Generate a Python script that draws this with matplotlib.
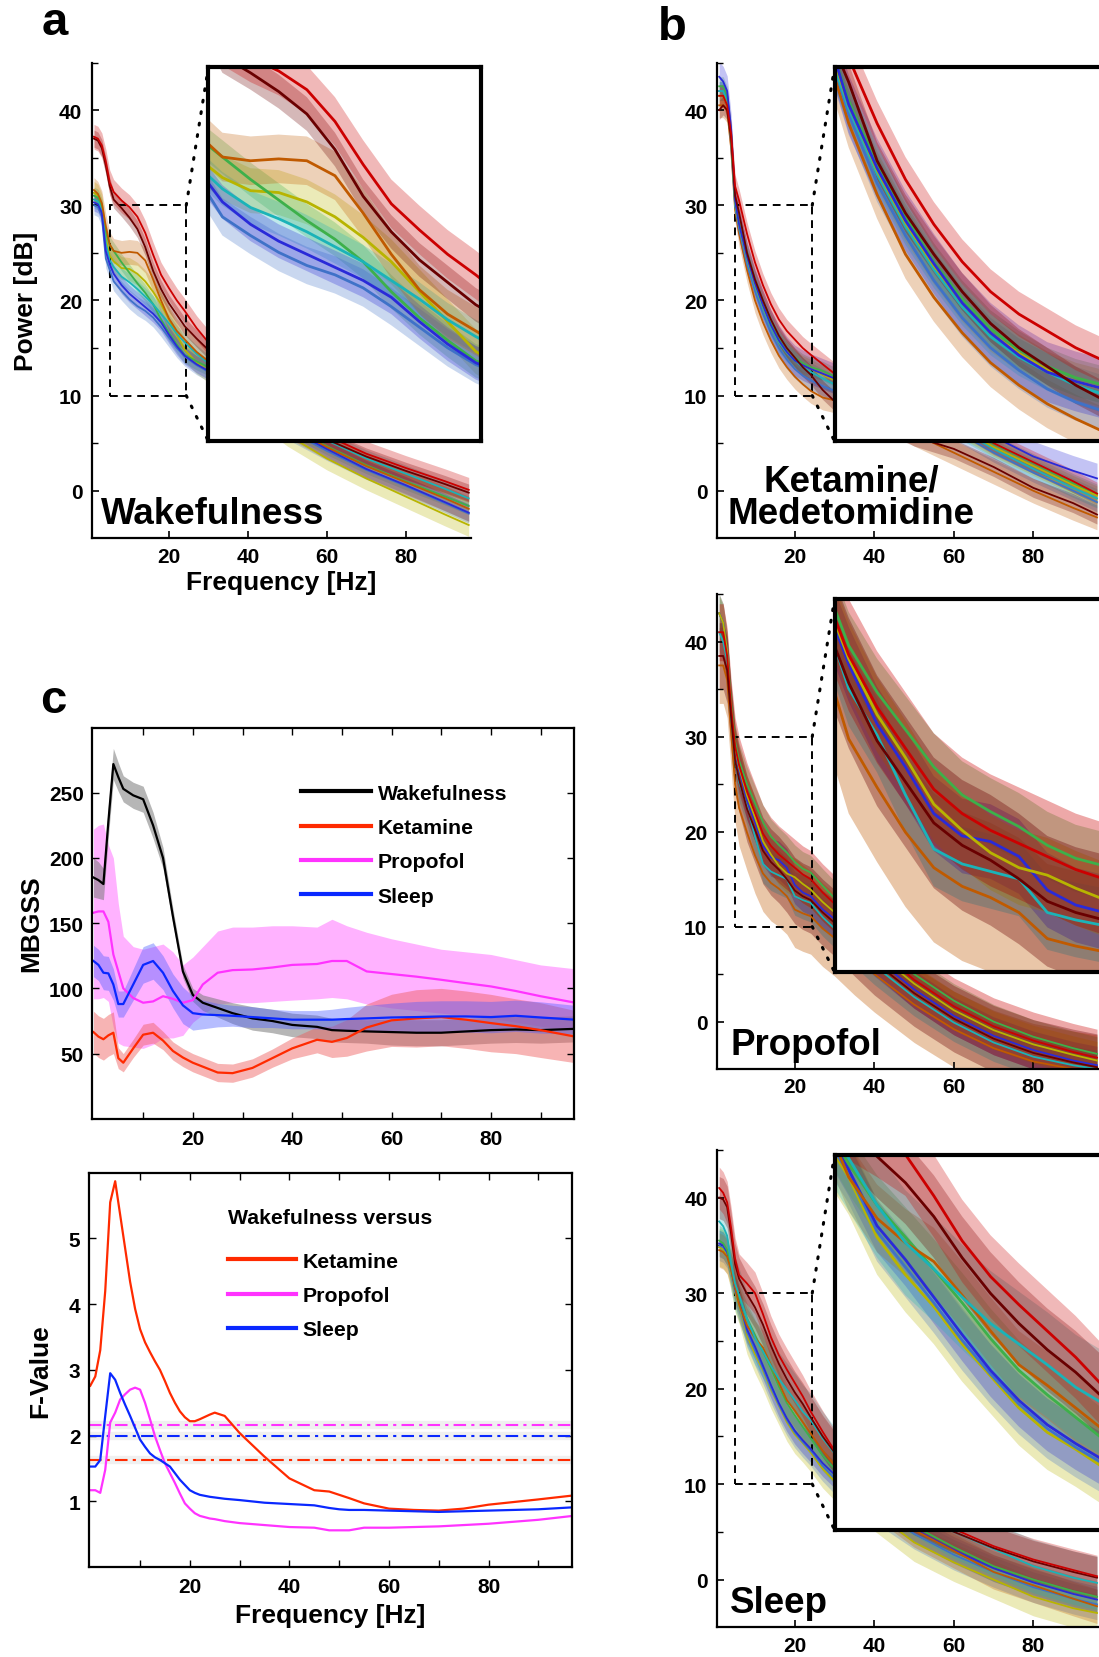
import matplotlib
matplotlib.use('Agg')
import matplotlib.pyplot as plt
from matplotlib.patches import Rectangle
from matplotlib.lines import Line2D

plt.rcParams['font.family'] = ['Liberation Sans', 'DejaVu Sans']
plt.rcParams['font.weight'] = 'bold'
plt.rcParams['axes.labelweight'] = 'bold'

# ---------------- spectra (panels a, b) ----------------
freqs = [1, 2, 3, 4, 5, 6, 8, 10, 12, 14, 16, 18, 20, 22, 24, 27, 30, 35, 40, 50, 60, 70, 80, 90, 96]

chan_colors = {'red': '#cc0000', 'maroon': '#6a0000', 'orange': '#c05a00', 'green': '#3db04a',
               'olive': '#b8b400', 'cyan': '#1bb3b8', 'blue': '#2a2ad8', 'steel': '#3f72c8'}

wake_chans = ['olive', 'green', 'cyan', 'steel', 'blue', 'orange', 'maroon', 'red']
wake_psd = [
    [31.3, 31.0, 30.0, 26.5, 24.7, 24.1, 23.4, 23.3, 22.8, 22.0, 20.9, 19.6, 18.0, 16.4, 14.8, 13.5, 12.6, 10.6, 9.0, 5.9, 3.4, 1.3, -0.6, -2.5, -3.6],
    [31.0, 30.8, 29.8, 27.2, 25.8, 25.2, 24.0, 22.9, 21.8, 20.8, 19.6, 18.0, 16.6, 15.4, 14.3, 13.6, 13.0, 11.4, 9.9, 6.9, 4.7, 2.7, 1.0, -0.6, -1.6],
    [30.6, 30.4, 29.5, 26.0, 24.2, 23.5, 22.5, 21.9, 21.2, 20.4, 19.6, 18.6, 17.6, 16.5, 15.6, 14.4, 13.4, 11.8, 10.3, 7.3, 5.3, 3.4, 1.8, 0.2, -0.8],
    [30.0, 29.8, 28.8, 24.4, 23.2, 22.0, 21.0, 20.1, 19.4, 18.9, 18.2, 17.2, 16.1, 15.0, 14.1, 13.2, 12.5, 10.9, 9.5, 6.4, 4.2, 2.2, 0.5, -1.3, -2.4],
    [30.3, 30.1, 29.2, 25.2, 23.8, 22.8, 21.6, 20.7, 20.0, 19.3, 18.6, 17.7, 16.4, 15.2, 14.2, 13.3, 12.6, 11.0, 9.6, 6.6, 4.4, 2.3, 0.6, -1.2, -2.3],
    [31.6, 31.2, 30.2, 27.8, 25.9, 25.2, 25.0, 25.1, 25.0, 24.2, 22.2, 20.0, 18.1, 16.8, 15.9, 14.6, 13.6, 11.9, 10.1, 6.9, 4.6, 2.6, 0.9, -0.8, -1.9],
    [37.0, 36.8, 36.0, 34.2, 32.0, 30.6, 29.7, 28.7, 27.5, 25.6, 23.1, 21.2, 19.7, 18.5, 17.3, 16.0, 14.8, 12.8, 11.0, 7.5, 5.4, 3.6, 2.1, 0.7, -0.2],
    [37.2, 37.0, 36.3, 34.6, 32.4, 31.4, 30.5, 29.8, 28.8, 27.1, 24.8, 22.7, 21.3, 20.0, 18.9, 17.1, 15.6, 13.4, 11.4, 7.8, 5.8, 3.9, 2.4, 1.0, 0.1],
]
wake_sd = [1.2, 0.9, 0.9, 1.0, 0.9, 1.3, 0.9, 1.3]

ket_chans = ['orange', 'steel', 'cyan', 'olive', 'green', 'blue', 'maroon', 'red']
ket_psd = [
    [40.5, 40.5, 40.0, 36.0, 29.5, 27.0, 23.2, 20.0, 17.7, 15.8, 14.2, 13.0, 12.0, 11.2, 10.5, 9.8, 9.5, 9.0, 8.3, 6.0, 4.0, 2.0, 0.0, -1.8, -2.8],
    [42.0, 42.0, 41.0, 36.5, 30.0, 27.5, 23.8, 21.0, 18.6, 16.6, 15.0, 13.8, 12.8, 12.1, 11.6, 11.0, 10.5, 10.2, 9.8, 8.8, 6.4, 4.0, 1.9, 0.0, -1.2],
    [42.0, 42.0, 41.0, 37.0, 30.0, 27.8, 24.3, 21.5, 19.2, 17.2, 15.6, 14.5, 13.7, 13.0, 12.5, 11.8, 11.2, 10.8, 10.4, 9.2, 6.8, 4.4, 2.3, 0.3, -0.8],
    [41.5, 41.5, 40.5, 37.0, 30.3, 28.0, 24.5, 21.7, 19.4, 17.4, 15.8, 14.7, 13.8, 13.2, 12.8, 12.2, 11.6, 11.3, 11.0, 9.6, 7.0, 4.6, 2.6, 0.6, -0.5],
    [42.5, 42.5, 41.5, 37.5, 30.5, 28.2, 24.8, 22.0, 19.6, 17.6, 16.0, 14.9, 14.0, 13.4, 13.0, 12.6, 12.0, 11.8, 11.5, 10.0, 7.4, 4.9, 2.9, 0.8, -0.3],
    [43.5, 43.0, 42.0, 38.0, 30.5, 28.0, 24.6, 21.8, 19.5, 17.4, 15.8, 14.6, 13.7, 13.2, 12.8, 12.3, 11.8, 11.5, 11.0, 10.2, 7.9, 5.7, 3.6, 2.1, 1.3],
    [40.0, 40.5, 40.0, 37.0, 31.0, 29.2, 25.0, 22.2, 20.0, 18.0, 16.3, 15.0, 14.0, 13.0, 12.2, 10.6, 9.4, 8.6, 7.6, 5.7, 4.4, 2.5, 0.3, -1.3, -2.5],
    [41.5, 41.5, 40.5, 37.5, 32.0, 30.5, 27.0, 24.0, 21.6, 19.6, 18.0, 16.8, 15.9, 15.0, 14.3, 13.3, 12.3, 11.8, 11.3, 10.0, 7.5, 5.0, 3.0, 1.0, -0.3],
]
ket_sd = [1.3, 1.0, 1.0, 1.0, 1.0, 1.6, 1.0, 1.2]

prop_chans = ['orange', 'green', 'cyan', 'blue', 'olive', 'red', 'maroon']
prop_psd = [
    [37.5, 37.5, 36.0, 30.5, 25.0, 22.5, 19.9, 17.5, 15.6, 14.6, 14.0, 13.2, 11.8, 11.4, 11.1, 9.8, 8.8, 6.8, 5.0, 1.8, -0.8, -2.8, -4.2, -5.0, -5.4],
    [43.0, 42.0, 39.0, 33.5, 29.5, 27.5, 25.0, 23.0, 21.0, 19.5, 18.6, 17.8, 16.8, 16.1, 15.7, 14.3, 13.0, 10.8, 8.6, 5.0, 2.2, 0.0, -1.6, -2.8, -3.4],
    [41.0, 40.0, 38.0, 32.0, 27.5, 25.2, 22.7, 19.5, 16.6, 15.8, 15.4, 15.0, 13.2, 12.8, 12.5, 11.0, 9.8, 7.8, 5.9, 2.6, -0.1, -2.2, -3.7, -4.6, -5.0],
    [43.0, 42.0, 39.0, 32.8, 28.5, 26.5, 23.3, 21.0, 18.5, 17.3, 17.0, 16.2, 14.4, 13.6, 13.2, 11.8, 10.8, 8.8, 6.8, 3.4, 0.6, -1.5, -3.0, -4.1, -4.6],
    [43.0, 42.0, 39.0, 33.0, 28.8, 26.8, 23.8, 21.5, 19.0, 17.6, 16.4, 15.6, 15.2, 14.5, 13.9, 12.6, 11.5, 9.4, 7.4, 4.0, 1.2, -0.9, -2.4, -3.5, -4.1],
    [41.0, 41.0, 38.5, 33.0, 29.0, 27.0, 24.2, 22.0, 19.8, 18.5, 17.6, 16.9, 16.2, 15.5, 15.0, 13.6, 12.4, 10.2, 8.0, 4.4, 1.6, -0.5, -2.0, -3.2, -3.8],
    [38.5, 38.5, 37.0, 32.0, 27.5, 25.5, 22.4, 20.2, 18.0, 16.8, 16.0, 15.0, 13.8, 13.2, 12.8, 11.5, 10.4, 8.3, 6.3, 3.0, 0.3, -1.8, -3.3, -4.3, -4.8],
]
prop_sd = [4.0, 1.8, 2.0, 2.0, 2.0, 3.0, 3.5]

sleep_chans = ['olive', 'steel', 'blue', 'green', 'orange', 'cyan', 'maroon', 'red']
sleep_psd = [
    [34.8, 34.6, 34.0, 32.2, 30.0, 28.8, 25.6, 23.6, 21.9, 19.9, 18.2, 16.5, 15.2, 14.3, 13.3, 11.6, 10.3, 8.5, 7.1, 3.9, 1.8, 0.0, -1.8, -3.0, -3.5],
    [35.0, 34.8, 34.2, 32.4, 30.2, 29.0, 25.9, 24.0, 22.1, 20.1, 18.3, 16.7, 15.4, 14.4, 13.5, 11.9, 10.6, 9.0, 7.6, 4.8, 2.6, 0.8, -0.8, -2.0, -2.6],
    [35.2, 35.0, 34.3, 32.6, 30.5, 29.2, 26.2, 24.4, 22.4, 20.4, 18.5, 16.9, 15.6, 14.6, 13.7, 12.2, 11.0, 9.4, 8.0, 5.3, 3.1, 1.2, -0.3, -1.5, -2.1],
    [35.5, 35.2, 34.5, 32.8, 30.8, 29.5, 27.3, 25.6, 23.9, 22.1, 20.2, 18.5, 17.2, 16.0, 14.8, 13.0, 11.6, 9.8, 8.3, 5.6, 3.4, 1.4, 0.0, -1.2, -1.8],
    [34.5, 34.3, 33.8, 32.4, 30.6, 28.8, 26.6, 25.3, 24.3, 22.5, 20.6, 18.8, 17.7, 16.5, 15.3, 13.5, 12.0, 10.0, 8.3, 5.2, 3.0, 0.8, -0.6, -2.0, -2.8],
    [37.5, 37.0, 36.0, 33.0, 31.0, 29.8, 27.3, 25.3, 23.9, 22.4, 21.0, 19.9, 18.8, 17.6, 16.7, 14.8, 13.2, 11.5, 10.1, 7.4, 5.0, 3.2, 1.4, 0.2, -0.35],
    [40.0, 39.8, 39.0, 36.2, 33.0, 31.5, 29.9, 28.5, 26.7, 24.5, 22.6, 21.0, 19.6, 18.4, 17.0, 15.0, 13.3, 11.4, 9.7, 6.9, 5.0, 3.3, 1.9, 0.8, 0.2],
    [41.0, 40.5, 39.5, 36.8, 33.6, 31.9, 31.0, 30.0, 27.8, 25.4, 23.5, 22.0, 20.6, 19.2, 17.6, 15.5, 13.5, 11.6, 9.9, 7.1, 5.3, 3.5, 2.1, 1.0, 0.35],
]
sleep_sd = [2.0, 1.6, 1.4, 1.6, 1.8, 2.8, 2.2, 2.2]

# zoom window and the box it is drawn into (data units of the main axes)
zoom_f = (5, 24.4)
zoom_db = (10, 30)
box_f = (30, 99.2)
box_db = (5.2, 44.5)

# ---------------- MBGSS (panel c, top) ----------------
mb_freq = [0, 1, 2, 3, 4, 5, 6, 8, 10, 12, 14, 16, 18, 20, 22, 25, 28, 32, 36, 40, 45, 48, 51, 55, 60, 65, 70, 75, 80, 85, 90, 97]
mb_wake = [185, 183, 180, 228, 272, 262, 253, 248, 245, 225, 200, 155, 113, 95, 89, 85, 81, 77, 75, 72, 70.5, 68, 67.5, 67, 66.5, 66, 66, 67, 68, 68.5, 68, 69]
mb_wake_sd = [15, 14, 12, 12, 12, 11, 10, 10, 10, 10, 8, 6, 5, 5, 6, 7, 8, 9, 9, 9, 9, 9, 9, 9, 10, 10, 10, 10, 10, 10, 10, 10]
mb_ket = [66.5, 63, 61, 64, 66, 46.5, 43, 54, 64.5, 66, 60, 52, 47, 43, 40, 35.5, 35, 39, 46.5, 54, 60.6, 59, 62, 70, 75.5, 77, 78, 76, 73.4, 71, 68, 63]
mb_ket_sd = [16, 16, 16, 16, 16, 8, 7, 7, 8, 8, 7, 7, 7, 7, 7, 7, 7, 7, 7, 8, 10, 12, 14, 18, 20, 22, 22, 22, 22, 21, 21, 20]
mb_prop = [158, 159, 159, 151, 126, 113, 100, 92.6, 89, 90, 94, 92, 89, 91, 103, 112, 114, 114.5, 116, 118, 118.7, 121, 121, 113, 111, 109, 106.6, 104, 101.5, 98, 94, 89]
mb_prop_hi = [222, 225, 226, 210, 200, 165, 140, 132, 130, 132, 134, 128, 118, 124, 132, 144, 147, 147, 148, 148, 147, 153, 148, 143, 138, 134, 130, 128, 126, 122, 118, 115]
mb_prop_lo = [92, 92, 93, 90, 70, 58, 56, 55, 54, 57, 62, 62, 64, 74, 80, 88, 89, 89, 90, 91, 92, 93, 92, 88, 85, 83, 81, 79, 77, 74, 71, 68]
mb_sleep = [121, 118, 112, 111.5, 103, 88, 88, 103, 118, 121, 112, 98, 87, 81, 80, 79.5, 79, 78, 77, 76, 76, 76, 76.5, 77, 77.7, 78, 78.5, 78.5, 78, 79, 77.7, 76]
mb_sleep_sd = [12, 12, 13, 13, 12, 10, 10, 12, 14, 14, 13, 13, 14, 13, 11, 9, 8, 8, 7, 7, 7, 8, 9, 10, 11, 12, 12, 12, 12, 12, 12, 11]

# ---------------- F-values (panel c, bottom) ----------------
fv_freq = [0, 1, 2, 3, 4, 5, 6, 7, 8, 9, 10, 11, 12, 13, 14, 15, 16, 17, 18, 19, 20, 21, 22, 24, 25, 27, 30, 35, 40, 45, 48, 50, 52, 55, 60, 65, 70, 75, 80, 85, 90, 97]
fv_ket = [2.76, 2.9, 3.3, 4.2, 5.55, 5.87, 5.36, 4.85, 4.34, 3.93, 3.62, 3.42, 3.27, 3.13, 3.0, 2.83, 2.65, 2.5, 2.37, 2.28, 2.22, 2.22, 2.25, 2.32, 2.35, 2.3, 2.04, 1.68, 1.35, 1.17, 1.15, 1.1, 1.05, 0.97, 0.89, 0.87, 0.86, 0.89, 0.95, 0.99, 1.03, 1.09]
fv_prop = [1.17, 1.17, 1.13, 1.48, 2.2, 2.35, 2.55, 2.63, 2.7, 2.73, 2.7, 2.5, 2.25, 1.99, 1.78, 1.58, 1.43, 1.28, 1.12, 0.97, 0.89, 0.82, 0.78, 0.74, 0.73, 0.7, 0.67, 0.64, 0.61, 0.6, 0.56, 0.56, 0.56, 0.6, 0.6, 0.61, 0.62, 0.64, 0.66, 0.69, 0.72, 0.78]
fv_sleep = [1.53, 1.53, 1.63, 2.3, 2.95, 2.85, 2.65, 2.47, 2.3, 2.12, 1.94, 1.83, 1.73, 1.67, 1.63, 1.58, 1.53, 1.43, 1.33, 1.25, 1.17, 1.13, 1.1, 1.07, 1.06, 1.04, 1.02, 0.98, 0.96, 0.94, 0.9, 0.88, 0.87, 0.87, 0.86, 0.85, 0.84, 0.85, 0.86, 0.87, 0.88, 0.91]
fv_thresh = {'Ketamine': 1.63, 'Propofol': 2.16, 'Sleep': 1.99}

cond_colors = {'Wakefulness': '#000000', 'Ketamine': '#ff2a00', 'Propofol': '#ff33ff', 'Sleep': '#0a28ff'}
band_colors = {'Wakefulness': '#7a7a7a', 'Ketamine': '#ee5a5a', 'Propofol': '#ff66ff', 'Sleep': '#4a5cff'}

TICK = 15
LABEL = 19
BIG = 26.5
LEG = 15.3


def draw_curves(ax, psd, chans, sd, lw, alpha):
    for vals, ch, s in zip(psd, chans, sd):
        c = chan_colors[ch]
        lo = [v - s for v in vals]
        hi = [v + s for v in vals]
        ax.fill_between(freqs, lo, hi, color=c, alpha=alpha, lw=0)
        ax.plot(freqs, vals, color=c, lw=lw)


def spectrum_panel(rect, psd, chans, sd, name, name_x, alpha=0.28, xlabel=False, ylabel=False):
    ax = fig.add_axes(rect)
    draw_curves(ax, psd, chans, sd, 1.3, alpha)
    ax.set_xlim(0.5, 96.5)
    ax.set_ylim(-5, 45)
    ax.spines['top'].set_visible(False)
    ax.spines['right'].set_visible(False)
    for s in ['left', 'bottom']:
        ax.spines[s].set_linewidth(1.6)
    ax.set_xticks([20, 40, 60, 80])
    ax.set_yticks([0, 10, 20, 30, 40])
    ax.set_yticks([5, 15, 25, 35, 45], minor=True)
    ax.tick_params(direction='in', length=5, width=1.2, labelsize=TICK)
    ax.tick_params(axis='y', pad=7)
    ax.tick_params(axis='x', pad=6)
    ax.tick_params(which='minor', direction='in', length=4, width=1.0)
    if xlabel:
        ax.set_xlabel('Frequency [Hz]', fontsize=LABEL, labelpad=3)
    if ylabel:
        ax.set_ylabel('Power [dB]', fontsize=LABEL, labelpad=15)
    ax.text(name_x, 0.015, name, transform=ax.transAxes, fontsize=BIG,
            ha='center' if '\n' in name else 'left', va='bottom', linespacing=0.9)

    # zoomed inset
    x0, x1 = zoom_f
    y0, y1 = zoom_db
    bx0, bx1 = box_f
    by0, by1 = box_db
    ins = ax.inset_axes([bx0, by0, bx1 - bx0, by1 - by0], transform=ax.transData)
    draw_curves(ins, psd, chans, sd, 2.0, alpha)
    ins.set_xlim(x0, x1)
    ins.set_ylim(y0, y1)
    ins.set_xticks([])
    ins.set_yticks([])
    for s in ins.spines.values():
        s.set_linewidth(3)
    ax.add_patch(Rectangle((x0, y0), x1 - x0, y1 - y0, fill=False, ls=(0, (4, 3)), lw=1.4, color='k'))
    ax.plot([x1, bx0], [y1, by1], color='k', lw=2.2, ls=(0, (0.6, 3.2)), dash_capstyle='round', clip_on=False)
    ax.plot([x1, bx0], [y0, by0], color='k', lw=2.2, ls=(0, (0.6, 3.2)), dash_capstyle='round', clip_on=False)
    return ax


fig = plt.figure(figsize=(10.99, 16.58), dpi=100)

spectrum_panel([0.0837, 0.6747, 0.3446, 0.287], wake_psd, wake_chans, wake_sd,
               'Wakefulness', 0.025, xlabel=True, ylabel=True)
spectrum_panel([0.6526, 0.6747, 0.3474, 0.287], ket_psd, ket_chans, ket_sd,
               'Ketamine/\nMedetomidine', 0.35)
spectrum_panel([0.6526, 0.3546, 0.3474, 0.2864], prop_psd, prop_chans, prop_sd,
               'Propofol', 0.035, alpha=0.34)
spectrum_panel([0.6526, 0.0179, 0.3474, 0.288], sleep_psd, sleep_chans, sleep_sd,
               'Sleep', 0.033)


def box_axes(ax):
    for s in ax.spines.values():
        s.set_linewidth(1.6)
    ax.set_xlim(-0.3, 96.8)
    ax.set_xticks(list(range(10, 100, 10)))
    ax.set_xticklabels(['' if v % 20 else str(v) for v in range(10, 100, 10)])
    ax.tick_params(direction='in', length=5, width=1.0, labelsize=TICK, top=True, right=True)
    ax.tick_params(axis='x', pad=7)
    ax.tick_params(axis='y', pad=6)


# MBGSS
axm = fig.add_axes([0.0837, 0.3246, 0.4389, 0.236])
axm.fill_between(mb_freq, mb_prop_lo, mb_prop_hi, color=band_colors['Propofol'], alpha=0.5, lw=0)
axm.fill_between(mb_freq, [v - s for v, s in zip(mb_wake, mb_wake_sd)],
                 [v + s for v, s in zip(mb_wake, mb_wake_sd)], color=band_colors['Wakefulness'], alpha=0.55, lw=0)
axm.fill_between(mb_freq, [v - s for v, s in zip(mb_ket, mb_ket_sd)],
                 [v + s for v, s in zip(mb_ket, mb_ket_sd)], color=band_colors['Ketamine'], alpha=0.45, lw=0)
axm.fill_between(mb_freq, [v - s for v, s in zip(mb_sleep, mb_sleep_sd)],
                 [v + s for v, s in zip(mb_sleep, mb_sleep_sd)], color=band_colors['Sleep'], alpha=0.4, lw=0)
axm.plot(mb_freq, mb_wake, color=cond_colors['Wakefulness'], lw=1.6, label='Wakefulness')
axm.plot(mb_freq, mb_ket, color=cond_colors['Ketamine'], lw=1.6, label='Ketamine')
axm.plot(mb_freq, mb_prop, color=cond_colors['Propofol'], lw=1.6, label='Propofol')
axm.plot(mb_freq, mb_sleep, color=cond_colors['Sleep'], lw=1.6, label='Sleep')
axm.set_ylim(0, 300)
axm.set_yticks([50, 100, 150, 200, 250])
box_axes(axm)
axm.set_ylabel('MBGSS', fontsize=LABEL, labelpad=4)
leg = axm.legend(loc='upper left', bbox_to_anchor=(0.394, 0.905), frameon=False, fontsize=LEG,
                 handlelength=3.3, handletextpad=0.3, labelspacing=0.72)
for h in leg.get_lines():
    h.set_linewidth(3)

# F-values
axf = fig.add_axes([0.0808, 0.0542, 0.4398, 0.2379])
for name, thr in fv_thresh.items():
    axf.axhline(thr, color='#888888', lw=6, alpha=0.12)
    axf.axhline(thr, color=cond_colors[name], lw=1.5, ls=(0, (6, 2.5, 1.5, 2.5)))
axf.plot(fv_freq, fv_ket, color=cond_colors['Ketamine'], lw=1.6)
axf.plot(fv_freq, fv_prop, color=cond_colors['Propofol'], lw=1.6)
axf.plot(fv_freq, fv_sleep, color=cond_colors['Sleep'], lw=1.6)
axf.set_ylim(0, 6)
axf.set_yticks([1, 2, 3, 4, 5])
box_axes(axf)
axf.set_ylabel('F-Value', fontsize=LABEL, labelpad=12)
axf.set_xlabel('Frequency [Hz]', fontsize=LABEL, labelpad=5)
handles = [Line2D([], [], color=cond_colors[n], lw=3) for n in ['Ketamine', 'Propofol', 'Sleep']]
legf = axf.legend(handles, ['Ketamine', 'Propofol', 'Sleep'], title='Wakefulness versus',
                  loc='upper left', bbox_to_anchor=(0.248, 0.958), frameon=False, fontsize=LEG,
                  title_fontsize=LEG, handlelength=3.2, handletextpad=0.3, labelspacing=0.72,
                  alignment='left')
legf.get_title().set_fontweight('bold')
legf._legend_box.sep = 0.83 * LEG * fig.dpi / 72

# panel letters
fig.text(0.05, 0.986, 'a', fontsize=34, ha='center', va='center')
fig.text(0.612, 0.983, 'b', fontsize=34, ha='center', va='center')
fig.text(0.048, 0.577, 'c', fontsize=34, ha='center', va='center')

fig.savefig('out.png', dpi=100)
